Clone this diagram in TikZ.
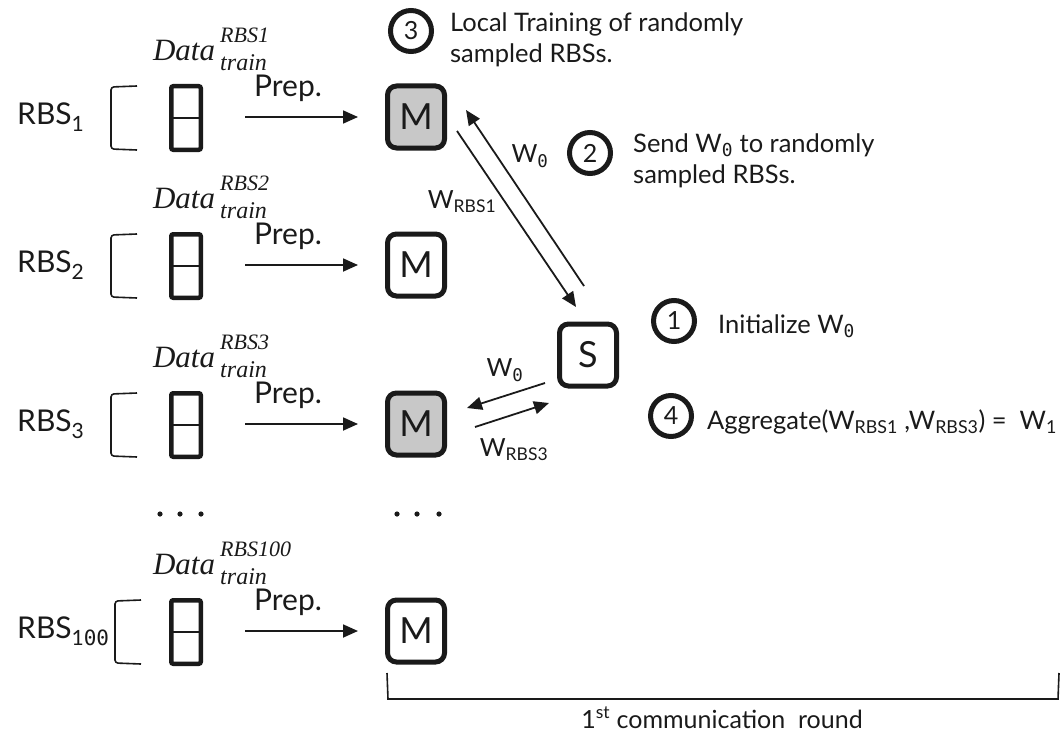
\documentclass[tikz,border=0pt]{standalone}
\usepackage{fontspec}
\setmainfont{Lato}
\newfontfamily\zerofont{DejaVu Sans Mono}
\newfontfamily\dataface{Liberation Serif}
\usetikzlibrary{arrows.meta}
\definecolor{ink}{HTML}{1A1A1A}
\definecolor{modelgray}{HTML}{C8C8C8}
\newcommand\zsub{\textsubscript{\zerofont 0}}
\newcommand\twolines[2]{\begin{tabular}[t]{@{}l@{}}#1\\#2\end{tabular}}
% italic symbol with a superscript stacked over a subscript
\newcommand\datasym[3]{{\dataface\itshape #1\,\rlap{\raisebox{0.6em}{\fontsize{22}{23}\selectfont #2}}\raisebox{-0.3em}{\fontsize{24}{25}\selectfont #3}}}

\begin{document}
\begin{tikzpicture}[x=1pt,y=-1pt,
  every node/.style={text=ink, inner sep=0pt},
  rbslabel/.style={font=\fontsize{30}{34}\selectfont, anchor=west},
  datalabel/.style={font=\fontsize{31}{34}\selectfont},
  preplabel/.style={font=\fontsize{30}{34}\selectfont},
  databox/.style={draw=ink, line width=4.5pt, rounded corners=2pt,
    minimum width=29.5pt, minimum height=63.5pt},
  mbox/.style={draw=ink, line width=5pt, rounded corners=9pt,
    minimum width=57pt, minimum height=62pt, font=\fontsize{36}{40}\selectfont},
  numcirc/.style={circle, draw=ink, line width=5pt, minimum size=41pt,
    font=\fontsize{25}{30}\selectfont},
  note/.style={font=\fontsize{25.5}{31}\selectfont, anchor=base west},
  wlabel/.style={font=\fontsize{25}{30}\selectfont},
  arr/.style={draw=ink, line width=1.8pt, -{Triangle[length=15pt,width=13pt]}},
  bracketline/.style={draw=ink, line width=1.6pt, rounded corners=3pt},
]
\useasboundingbox (0,0) rectangle (1064,741);

% one row per radio base station: label, bracket, data, preprocessing, model
\foreach \i/\y/\n/\s/\f/\bx in {1/117/{1}/{1}/modelgray/111, 2/265/{2}/{2}/white/111,
    3/424/{3}/{3}/modelgray/111, 4/631/{1{\zerofont 00}}/{100}/white/115} {
  \node[rbslabel] (r\i) at (17,\y) {RBS\textsubscript{\n}};
  \draw[bracketline] (\bx+26,\y-31) -- (\bx,\y-30) -- (\bx,\y+32) -- (\bx+26,\y+33);
  \node[databox] (d\i) at (186,\y+1) {};
  \draw[draw=ink, line width=2pt] (d\i.west) -- (d\i.east);
  \node[datalabel] (l\i) at (210,\y-68) {\datasym{Data}{RBS\s}{train}};
  \node[mbox, fill=\f] (m\i) at (416,\y) {M};
  \draw[arr, shorten <=42pt, shorten >=27pt] (d\i.east |- m\i.west) -- (m\i.west);
  \node[preplabel] (p\i) at (288,\y-29) {Prep.};
}

% ellipsis between the third row and the last one
\foreach \x in {160,180,201,397,417,439}
  \fill[ink] (\x,514) circle (2.6);

% server
\node[mbox] (s) at (588,355) {S};

% exchange with the first station
\draw[arr] ([shift={(-4,-35.5)}]s.north) -- ([shift={(19,26.5)}]m1.north east);
\draw[arr] ([shift={(10,14)}]m1.east) -- ([shift={(-12,-14.5)}]s.north);
\node[wlabel] (w0a) at (530,156) {W\zsub};
\node[wlabel] (wr1) at (462,202) {W\textsubscript{RBS1}};

% exchange with the third station
\draw[arr] ([shift={(-12,28)}]s.west) -- ([shift={(20,-16)}]m3.east);
\draw[arr] ([shift={(28,3)}]m3.east) -- ([shift={(-8,14.5)}]s.south west);
\node[wlabel] (w0b) at (505,370) {W\zsub};
\node[wlabel] (wr3) at (514,450) {W\textsubscript{RBS3}};

% numbered steps
\node[numcirc] (c3) at (411,31) {3};
\node[note] (t3) at (450,32) {\twolines{Local Training of randomly}{sampled RBSs.}};
\node[numcirc] (c2) at (590,153) {2};
\node[note] (t2) at (633,152) {\twolines{Send W\zsub{} to randomly}{sampled RBSs.}};
\node[numcirc] (c1) at (674,321) {1};
\node[note] (t1) at (718,333) {Initialize W\zsub};
\node[numcirc] (c4) at (671,416) {4};
\node[note] (t4) at (707,429) {Aggregate(W\textsubscript{RBS1} ,W\textsubscript{RBS3}) =\ \ W\textsubscript{1}};

% span of the first communication round
\draw[bracketline, rounded corners=0pt] (387,673) -- (388,699) -- (1058,699) -- (1059,673);
\node[wlabel, anchor=base] (round) at (722,728) {1\textsuperscript{st} communication\ \ round};
\end{tikzpicture}
\end{document}
